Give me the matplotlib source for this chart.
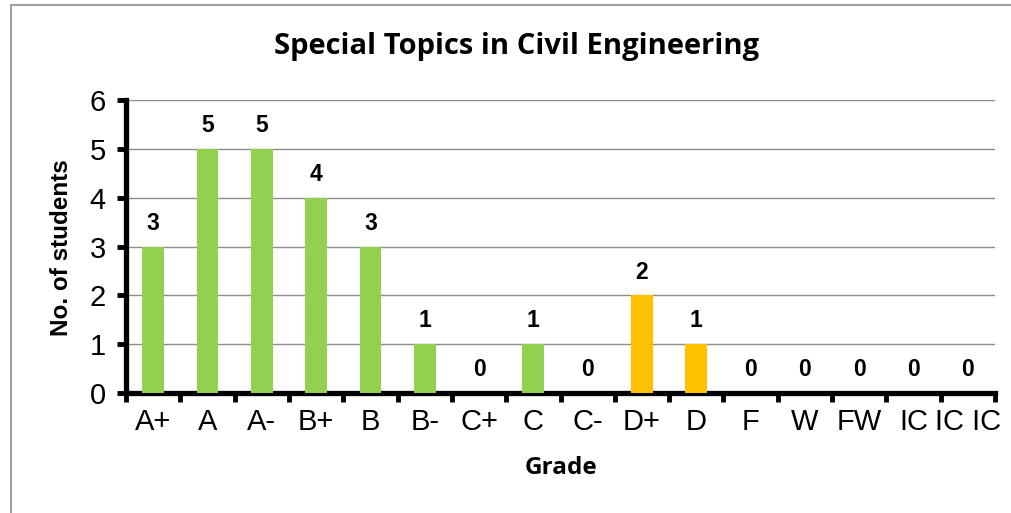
import matplotlib.pyplot as plt
from matplotlib.patches import Rectangle
import numpy as np

grades = ["A+", "A", "A-", "B+", "B", "B-", "C+", "C", "C-", "D+", "D",
          "F", "W", "FW", "IC", "IC IC"]
students = [3, 5, 5, 4, 3, 1, 0, 1, 0, 2, 1, 0, 0, 0, 0, 0]
bar_colors = ["#92D050"] * 9 + ["#FFC000"] * 2 + ["#92D050"] * 5

fig = plt.figure(figsize=(10.11, 5.13), dpi=100)
# grey frame around the chart
fig.patches.append(Rectangle((11 / 1011, -0.1), 1.2, (513 - 5) / 513 + 0.1,
                             transform=fig.transFigure, fill=False,
                             edgecolor="#a0a0a0", linewidth=1.5))

ax = fig.add_axes([126 / 1011, 1 - 393 / 513, (995 - 126) / 1011, (393 - 100) / 513])
x = np.arange(len(grades))
ax.bar(x, students, width=0.4, color=bar_colors, zorder=3)

for xi, v in zip(x, students):
    ax.text(xi, v + 0.24, str(v), ha="center", va="bottom",
            fontsize=16.5, fontweight="bold", family="Liberation Sans")

ax.set_xlim(-0.5, len(grades) - 0.5)
ax.set_ylim(0, 6)
ax.set_yticks(range(7))
ax.set_yticklabels([str(i) for i in range(7)], fontsize=21, family="Liberation Sans")
ax.set_xticks(np.arange(len(grades) + 1) - 0.5)
ax.set_xticklabels([])
ax.set_xticks(x, minor=True)
ax.set_xticklabels(grades, minor=True, fontsize=21, family="Liberation Sans")
ax.tick_params(axis="x", which="major", direction="out", length=6.5, width=3.5)
ax.tick_params(axis="x", which="minor", length=0, pad=11)
ax.tick_params(axis="y", direction="out", length=6.5, width=3.5, pad=8)

ax.yaxis.grid(True, color="#8c8c8c", linewidth=1, zorder=0)
ax.set_axisbelow(True)
for s in ["top", "right"]:
    ax.spines[s].set_visible(False)
ax.spines["left"].set_linewidth(3.8)
ax.spines["bottom"].set_linewidth(3.8)

fig.text(561 / 1011, 1 - 468 / 513, "Grade", ha="center", va="center",
         fontsize=17.5, fontweight="bold", family="Open Sans")
fig.text(62 / 1011, 1 - 248 / 513, "No. of students", ha="center", va="center",
         rotation=90, fontsize=17.5, fontweight="bold", family="Liberation Sans")
fig.text(517 / 1011, 1 - 47 / 513, "Special Topics in Civil Engineering",
         ha="center", va="center", fontsize=21, fontweight="bold", family="Open Sans")

fig.savefig("out.png", dpi=100)
